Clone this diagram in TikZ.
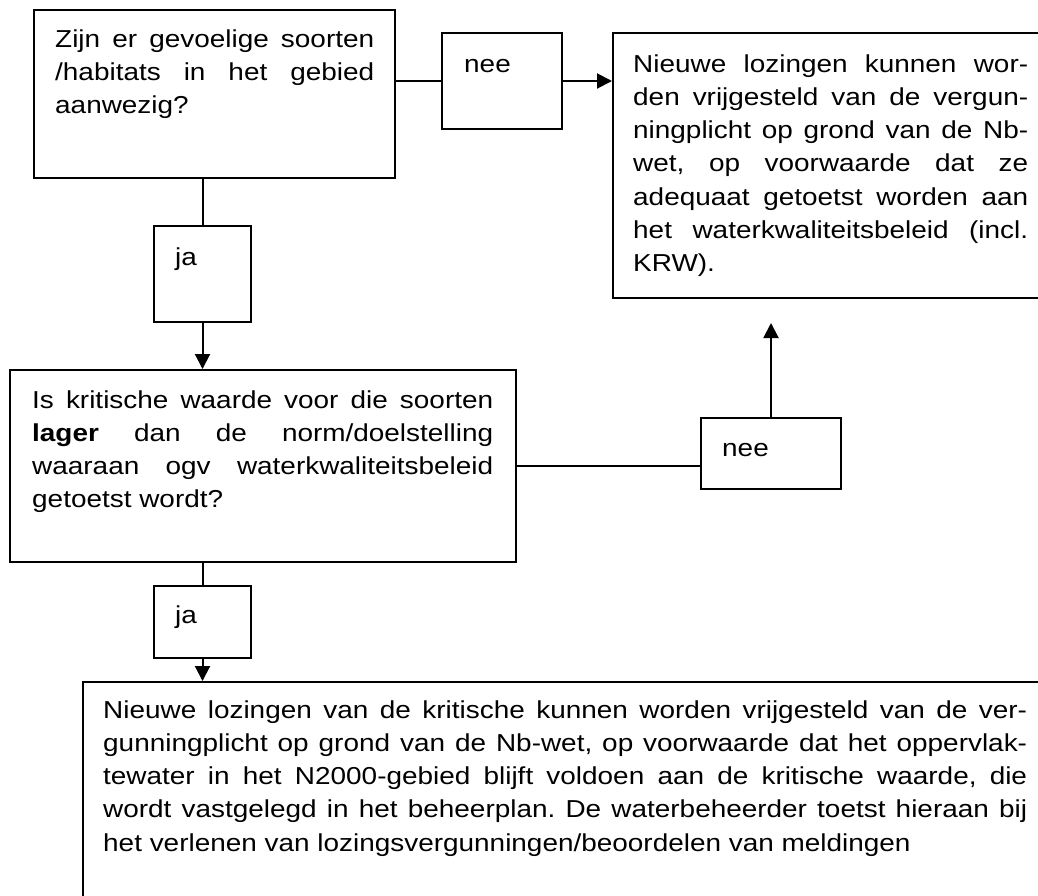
\documentclass[tikz,border=0pt]{standalone}
\usepackage{fontspec}
\setmainfont{Liberation Sans}[FakeStretch=1.14]
\usetikzlibrary{arrows.meta}
\frenchspacing
\tikzset{
  box/.style={draw=black, line width=2pt, inner sep=0pt, rectangle},
  txt/.style={anchor=base west, inner sep=0pt, align=justify,
    font=\fontsize{24.5}{33.3}\selectfont,
    execute at begin node={\frenchspacing\tolerance=10000\hbadness=10000\hyphenpenalty=10000\exhyphenpenalty=10000}},
  lbl/.style={anchor=base west, inner sep=0pt, font=\fontsize{24.5}{33.3}\selectfont},
  conn/.style={line width=2pt},
  arr/.style={line width=2pt, -{Triangle[length=15pt,width=15pt]}}
}
\begin{document}
\begin{tikzpicture}[x=1pt,y=-1pt]
\useasboundingbox (0,0) rectangle (1038,895);
\clip (0,0) rectangle (1038,895);
% boxes
\node[box, minimum width=361pt, minimum height=168.5pt] (q1) at (214.5,93.75) {};
\node[box, minimum width=120pt, minimum height=96pt] (nee1) at (502,81) {};
\node[box, minimum width=436pt, minimum height=265pt] (r1) at (831,165.5) {};
\node[box, minimum width=97pt, minimum height=96pt] (ja1) at (202.5,274) {};
\node[box, minimum width=506pt, minimum height=192pt] (q2) at (263,466) {};
\node[box, minimum width=140pt, minimum height=71pt] (nee2) at (771,453.5) {};
\node[box, minimum width=97pt, minimum height=72pt] (ja2) at (202.5,622) {};
\node[box, minimum width=965pt, minimum height=248pt] (r2) at (565.5,806) {};
% texts
\node[txt, text width=319pt] (t1) at (55,47) {Zijn er gevoelige soorten\linebreak /habitats in het gebied\linebreak aanwezig?};
\node[lbl] (l1) at (464,72) {nee};
\node[txt, text width=395pt] (t2) at (633,72) {Nieuwe lozingen kunnen wor-\linebreak den vrijgesteld van de vergun-\linebreak ningplicht op grond van de Nb-\linebreak wet, op voorwaarde dat ze\linebreak adequaat getoetst worden aan\linebreak het waterkwaliteitsbeleid (incl.\linebreak KRW).};
\node[lbl] (l2) at (175,265) {ja};
\node[txt, text width=461pt] (t3) at (32,408) {Is kritische waarde voor die soorten\linebreak \textbf{lager} dan de norm/doelstelling\linebreak waaraan ogv waterkwaliteitsbeleid\linebreak getoetst wordt?};
\node[lbl] (l3) at (722,456) {nee};
\node[lbl] (l4) at (175,623) {ja};
\node[txt, text width=924pt] (t4) at (103,718) {Nieuwe lozingen van de kritische kunnen worden vrijgesteld van de ver-\linebreak gunningplicht op grond van de Nb-wet, op voorwaarde dat het oppervlak-\linebreak tewater in het N2000-gebied blijft voldoen aan de kritische waarde, die\linebreak wordt vastgelegd in het beheerplan. De waterbeheerder toetst hieraan bij\linebreak het verlenen van lozingsvergunningen/beoordelen van meldingen};
% connectors
\draw[conn] (nee1.west -| q1.east) -- (nee1.west);
\draw[arr] (nee1.east) -- (nee1.east -| r1.west);
\draw[conn] (ja1.north |- q1.south) -- (ja1.north);
\draw[arr] (ja1.south) -- (ja1.south |- q2.north);
\draw[conn] (q2.east) -- (q2.east -| nee2.west);
\draw[arr] (nee2.north) -- ([yshift=-24pt]nee2.north |- r1.south);
\draw[conn] (ja2.north |- q2.south) -- (ja2.north);
\draw[arr] (ja2.south) -- (ja2.south |- r2.north);
\end{tikzpicture}
\end{document}
